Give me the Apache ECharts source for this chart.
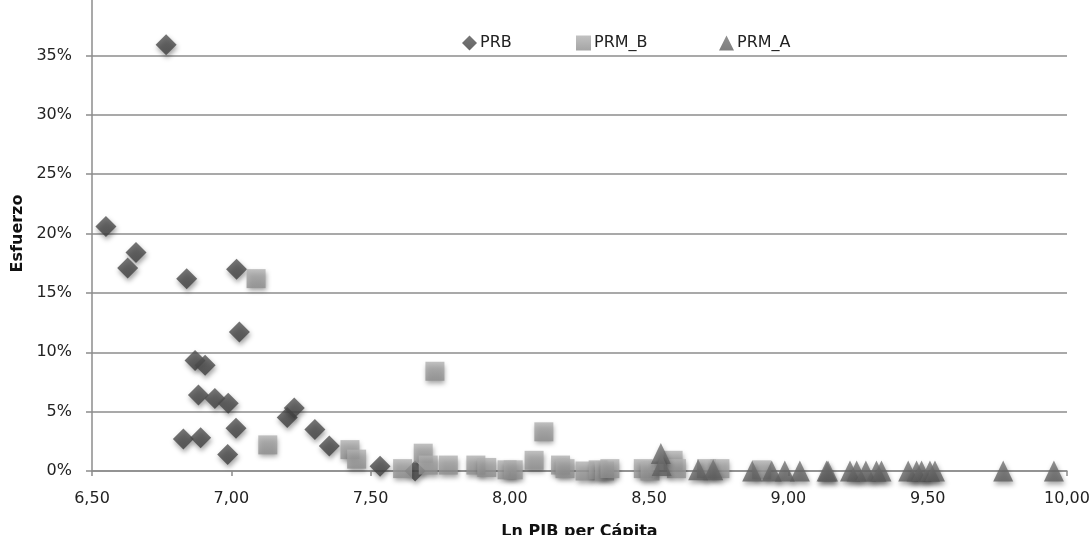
<!DOCTYPE html>
<html>
<head>
<meta charset="utf-8">
<script src="https://cdn.jsdelivr.net/npm/echarts@6/dist/echarts.min.js"></script>
<style>
html,body{margin:0;padding:0;background:#fff;}
#chart{width:1091px;height:535px;}
</style>
</head>
<body>
<div id="chart"></div>
<script>
const seriesNames = ['PRB', 'PRM_B', 'PRM_A'];
const xTicks = [6.5, 10.0, 0.5];
const yTicks = [0, 0.4, 0.05];

const prbX = [6.766, 6.550, 6.658, 6.628, 6.840, 7.019, 7.029, 6.870, 6.906, 6.882, 6.941, 6.989, 7.017, 6.828, 6.890, 6.987, 7.201, 7.226, 7.300, 7.352, 7.534, 7.660];
const prbY = [0.359, 0.206, 0.184, 0.171, 0.162, 0.170, 0.117, 0.093, 0.089, 0.064, 0.061, 0.057, 0.036, 0.027, 0.028, 0.014, 0.045, 0.053, 0.035, 0.021, 0.004, 0.000];

const prmBX = [7.089, 7.131, 7.426, 7.450, 7.615, 7.689, 7.707, 7.731, 7.779, 7.878, 7.917, 7.990, 8.012, 8.087, 8.122, 8.182, 8.198, 8.270, 8.317, 8.340, 8.359, 8.479, 8.503, 8.586, 8.598, 8.706, 8.754, 8.904];
const prmBY = [0.162, 0.022, 0.018, 0.010, 0.002, 0.015, 0.005, 0.084, 0.005, 0.005, 0.003, 0.001, 0.001, 0.009, 0.033, 0.005, 0.002, 0.000, 0.001, 0.000, 0.002, 0.002, 0.000, 0.009, 0.002, 0.002, 0.002, 0.001];

const prmAX = [8.542, 8.545, 8.676, 8.730, 8.870, 8.940, 8.987, 9.041, 9.137, 9.142, 9.221, 9.245, 9.278, 9.316, 9.334, 9.430, 9.460, 9.478, 9.508, 9.526, 9.771, 9.953];
const prmAY = [0.0148, 0.0046, 0.001, 0.001, 0.000, 0.000, 0.000, 0.000, 0.000, 0.000, 0.000, 0.000, 0.000, 0.000, 0.000, 0.000, 0.000, 0.000, 0.000, 0.000, 0.000, 0.000];

function zip(xs, ys) { return xs.map((x, i) => [x, ys[i]]); }

const FONT = 'DejaVu Sans';
const chart = echarts.init(document.getElementById('chart'));

function grad(top, bottom) {
  return new echarts.graphic.LinearGradient(0, 0, 0, 1, [
    { offset: 0, color: top }, { offset: 1, color: bottom }
  ]);
}
const shadow = { shadowBlur: 5, shadowColor: 'rgba(0,0,0,0.45)', shadowOffsetX: 1, shadowOffsetY: 3 };
const icons = ['diamond', 'rect', 'triangle'];
const legendLeft = [462, 576, 719];

chart.setOption({
  animation: false,
  backgroundColor: '#fff',
  grid: { left: 92, right: 24, top: -4, bottom: 64, containLabel: false, outerBoundsMode: 'none' },
  legend: seriesNames.map((n, i) => ({
    left: legendLeft[i], top: 35, padding: 0,
    itemWidth: 15, itemHeight: 15,
    textStyle: { fontFamily: FONT, fontSize: 16, color: '#222', padding: [0, 0, 0, -2] },
    data: [{ name: n, icon: icons[i] }]
  })),
  xAxis: {
    type: 'value', min: xTicks[0], max: xTicks[1], interval: xTicks[2],
    name: 'Ln PIB per Cápita', nameLocation: 'middle', nameGap: 53,
    nameTextStyle: { fontFamily: FONT, fontSize: 16, fontWeight: 'bold', color: '#111' },
    axisLine: { show: true, lineStyle: { color: '#8c8c8c', width: 1.5 } },
    axisTick: { show: true, length: 5, lineStyle: { color: '#8c8c8c', width: 1.5 } },
    axisLabel: { margin: 20, fontFamily: FONT, fontSize: 16, color: '#222',
      formatter: v => v.toFixed(2).replace('.', ',') },
    splitLine: { show: false }
  },
  yAxis: {
    type: 'value', min: yTicks[0], max: yTicks[1], interval: yTicks[2],
    name: 'Esfuerzo', nameLocation: 'middle', nameGap: 63, nameRotate: 90,
    nameTextStyle: { fontFamily: FONT, fontSize: 16, fontWeight: 'bold', color: '#111' },
    axisLine: { show: true, lineStyle: { color: '#8c8c8c', width: 1.5 } },
    axisTick: { show: true, length: 6, lineStyle: { color: '#8c8c8c', width: 1.5 } },
    axisLabel: { margin: 20, fontFamily: FONT, fontSize: 16, color: '#222', showMaxLabel: false,
      formatter: v => Math.round(v * 100) + '%' },
    splitLine: { show: true, lineStyle: { color: '#8c8c8c', width: 1.5 } }
  },
  series: [
    { name: seriesNames[0], type: 'scatter', symbol: 'diamond', symbolSize: 21,
      itemStyle: Object.assign({ color: grad('#555555', '#3f3f3f') }, shadow),
      data: zip(prbX, prbY) },
    { name: seriesNames[1], type: 'scatter', symbol: 'rect', symbolSize: 19,
      itemStyle: Object.assign({ color: grad('#b2b2b2', '#8e8e8e') }, shadow),
      data: zip(prmBX, prmBY) },
    { name: seriesNames[2], type: 'scatter', symbol: 'triangle', symbolSize: [20, 21],
      itemStyle: Object.assign({ color: grad('#757575', '#5e5e5e') }, shadow),
      data: zip(prmAX, prmAY) }
  ]
});
</script>
</body>
</html>
